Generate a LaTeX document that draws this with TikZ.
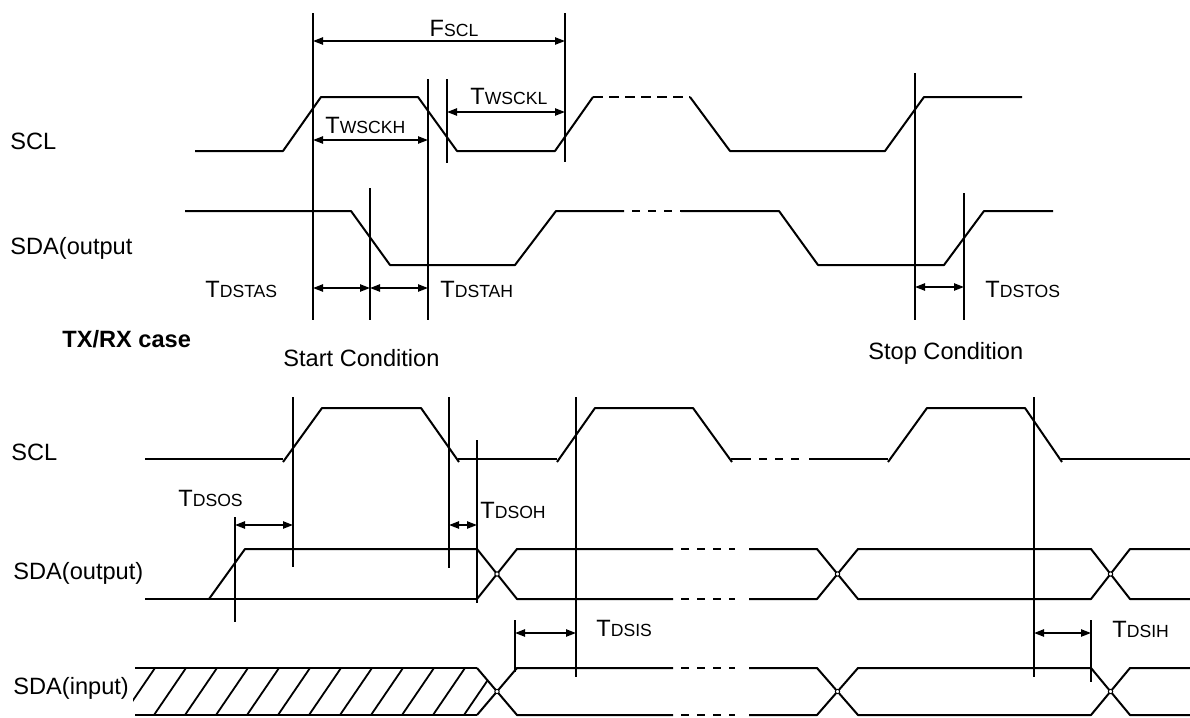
\documentclass[tikz,border=0pt]{standalone}
\usepackage{fontspec}
\setmainfont{Liberation Sans}
\usepackage{tikz}
\usetikzlibrary{arrows.meta}

\newcommand{\tsub}[2]{#1{\fontsize{8.8}{10}\selectfont #2}}

\begin{document}
\begin{tikzpicture}[>={Triangle[length=5pt,width=3.6pt]},x=0.5pt,y=-0.5pt,
        font=\fontsize{11.8}{14}\selectfont,
        sig/.style={line width=1pt,line join=round},
        guide/.style={line width=0.9pt},
        dim/.style={<->,line width=0.9pt},
        lbl/.style={anchor=west,inner sep=0pt},
        gapline/.style={sig,dash pattern=on 4pt off 4pt}]

    \useasboundingbox (0,0) rectangle (1190,718);

    \node[lbl] (sclA) at (10,141) {SCL};
    \node[lbl] (sdaA) at (10,248) {SDA(output};
    \node[lbl,font=\fontsize{11.8}{14}\selectfont\bfseries] (txrx) at (62,339) {TX/RX case};
    \node[lbl] (start) at (283,358) {Start Condition};
    \node[lbl] (stop) at (868,353) {Stop Condition};
    \node[inner sep=0pt] (fscl) at (454,28) {\tsub{F}{SCL}};
    \node[lbl] (twsckh) at (325,125) {\tsub{T}{WSCKH}};
    \node[lbl] (twsckl) at (470,96) {\tsub{T}{WSCKL}};
    \node[lbl] (tdstas) at (205,289) {\tsub{T}{DSTAS}};
    \node[lbl] (tdstah) at (440,289) {\tsub{T}{DSTAH}};
    \node[lbl] (tdstos) at (985,289) {\tsub{T}{DSTOS}};

    \draw[sig] (195,151) -- (283,151) -- (321,97) -- (418,97) -- (457,151) -- (555,151) -- (593,97);
    \draw[sig,dash pattern=on 5pt off 3pt] (593,97) -- (690,97);
    \draw[sig] (690,97) -- (730,151) -- (885,151) -- (924,97) -- (1022,97);

    \draw[sig] (185,211) -- (351,211) -- (390,265) -- (515,265) -- (556,211) -- (624,211);
    \draw[gapline] (632,211) -- (681,211);
    \draw[sig] (681,211) -- (779,211) -- (818,265) -- (944,265) -- (984,211) -- (1053,211);

    \foreach \x/\a/\b in {313/13/320, 565/13/162, 428/79/320, 447/79/163,
                          370/188/320, 915/73/320, 964/193/320}
        \draw[guide] (\x,\a) -- (\x,\b);

    \draw[dim] (313,41) -- (565,41);
    \draw[dim] (313,140) -- (428,140);
    \draw[dim] (447,112) -- (565,112);
    \draw[dim] (313,288) -- (370,288);
    \draw[dim] (370,288) -- (428,288);
    \draw[dim] (915,287) -- (964,287);

    \node[lbl] (sclB) at (11,452) {SCL};
    \node[lbl] (sdaoB) at (13,573) {SDA(output)};
    \node[lbl] (sdaiB) at (13,688) {SDA(input)};
    \node[lbl] (tdsos) at (178,498) {\tsub{T}{DSOS}};
    \node[lbl] (tdsoh) at (480,510) {\tsub{T}{DSOH}};
    \node[lbl] (tdsis) at (596,628) {\tsub{T}{DSIS}};
    \node[lbl] (tdsih) at (1112,629) {\tsub{T}{DSIH}};

    \draw[sig] (145,459) -- (283,459);
    \draw[sig] (283,462) -- (322,408) -- (421,408) -- (459,462);
    \draw[sig] (458,459) -- (557,459);
    \draw[sig] (557,462) -- (595,408) -- (693,408) -- (732,462);
    \draw[sig] (731,459) -- (751,459);
    \draw[gapline] (759,459) -- (801,459);
    \draw[sig] (809,459) -- (888,459);
    \draw[sig] (888,462) -- (927,408) -- (1025,408) -- (1062,462);
    \draw[sig] (1061,459) -- (1190,459);

    \foreach \x/\a/\b in {293/397/567, 449/397/568, 477/440/603, 576/397/677,
                          1034/397/677, 235/517/622, 515/620/672, 1091/620/682}
        \draw[guide] (\x,\a) -- (\x,\b);

    \draw[dim] (235,525) -- (293,525);
    \draw[dim] (449,525) -- (477,525);
    \draw[dim] (515,633) -- (576,633);
    \draw[dim] (1034,633) -- (1091,633);

    \draw[sig] (145,599) -- (477,599);
    \draw[sig] (209,599) -- (245,549) -- (477,549);

    \draw[sig] (135,668) -- (477,668);
    \draw[sig] (135,715) -- (477,715);
    \begin{scope}
        \clip (133,668) -- (477,668) -- (497,691.5) -- (477,715) -- (133,715) -- cycle;
        \foreach \t in {0,...,11}
            \draw[guide] (123+31*\t,715) -- (155+31*\t,668);
    \end{scope}

    \foreach \h/\l in {549/599, 668/715}{
        \draw[sig] (477,\h) -- (517,\l) -- (673,\l);
        \draw[sig] (477,\l) -- (517,\h) -- (673,\h);
        \draw[gapline] (681,\h) -- (735,\h) (681,\l) -- (735,\l);
        \draw[sig] (749,\h) -- (817,\h) -- (858,\l) -- (1091,\l) -- (1130,\h) -- (1190,\h);
        \draw[sig] (749,\l) -- (817,\l) -- (858,\h) -- (1091,\h) -- (1130,\l) -- (1190,\l);
        \foreach \c in {497,837.5,1110.5}
            \draw[line width=0.5pt,fill=white] (\c,{(\h+\l)/2}) circle[radius=1.1pt];
    }

\end{tikzpicture}
\end{document}
